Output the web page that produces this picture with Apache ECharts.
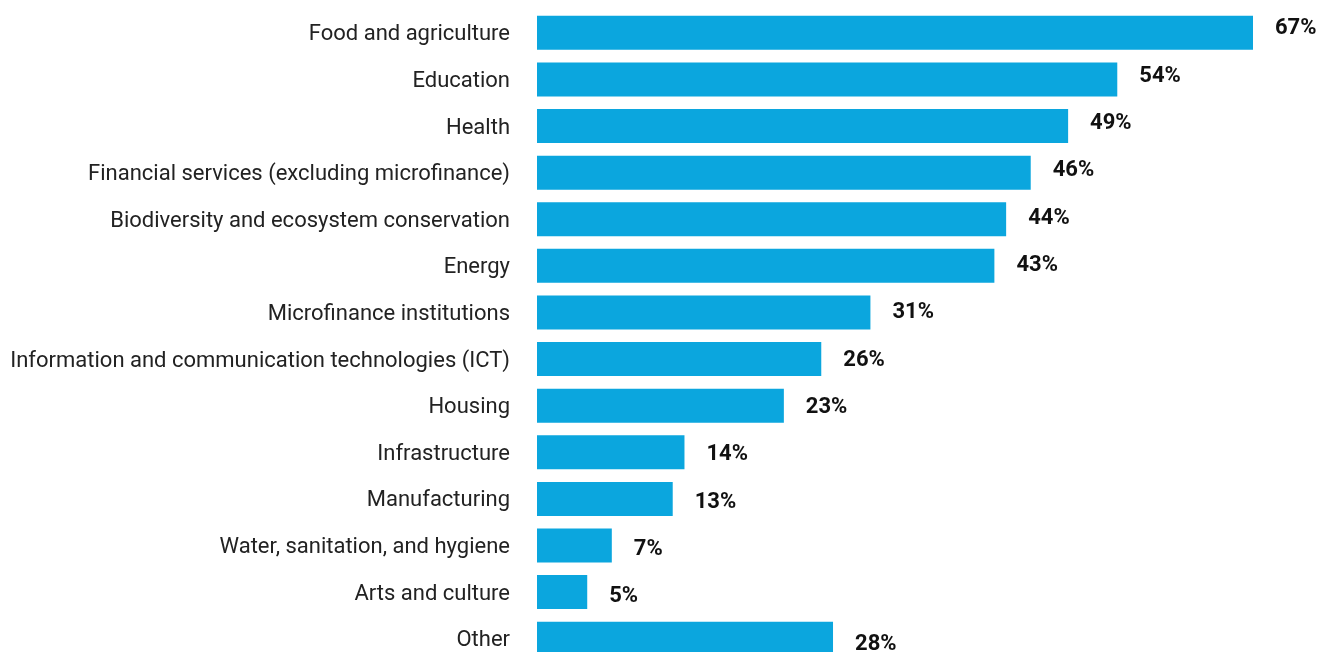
<!DOCTYPE html>
<html>
<head>
<meta charset="utf-8">
<script src="https://cdn.jsdelivr.net/npm/echarts@6/dist/echarts.min.js"></script>
<style>
html,body{margin:0;padding:0;background:#fff;overflow:hidden;}
#chart{width:1322px;height:662px;}
</style>
</head>
<body>
<div id="chart"></div>
<script>
const categories = [
  "Food and agriculture",
  "Education",
  "Health",
  "Financial services (excluding microfinance)",
  "Biodiversity and ecosystem conservation",
  "Energy",
  "Microfinance institutions",
  "Information and communication technologies (ICT)",
  "Housing",
  "Infrastructure",
  "Manufacturing",
  "Water, sanitation, and hygiene",
  "Arts and culture",
  "Other"
];
// bar lengths (percent)
const values = [67, 54.3, 49.7, 46.2, 43.9, 42.8, 31.2, 26.6, 23.1, 13.8, 12.7, 7.0, 4.7, 27.7];
// printed value labels
const valueLabels = ["67%", "54%", "49%", "46%", "44%", "43%", "31%", "26%", "23%", "14%", "13%", "7%", "5%", "28%"];

const n = categories.length;
const chart = echarts.init(document.getElementById('chart'), null, {renderer: 'canvas'});
chart.setOption({
  animation: false,
  grid: {left: 537, width: 716, top: 9.5, bottom: 0, containLabel: false},
  xAxis: {
    type: 'value', min: 0, max: 67,
    show: false
  },
  yAxis: {
    type: 'category',
    data: categories,
    inverse: true,
    axisLine: {show: false},
    axisTick: {show: false},
    splitLine: {show: false},
    axisLabel: {
      margin: 27,
      formatter: (v) => '{t|' + v + '}',
      rich: {
        t: {
          fontFamily: 'Roboto',
          fontSize: 22,
          color: '#222222',
          padding: [4, 0, 0, 0]
        }
      }
    }
  },
  series: [{
    type: 'bar',
    barWidth: 34,
    data: values.map((v, i) => ({
      value: v,
      label: {offset: [0, -4 + 9.5 * i / (n - 1)]}
    })),
    itemStyle: {color: '#0ba6de'},
    label: {
      show: true,
      position: 'right',
      distance: 22,
      formatter: (p) => valueLabels[p.dataIndex],
      fontFamily: 'Roboto',
      fontWeight: 'bold',
      fontSize: 22,
      color: '#111111'
    }
  }]
});
</script>
</body>
</html>
